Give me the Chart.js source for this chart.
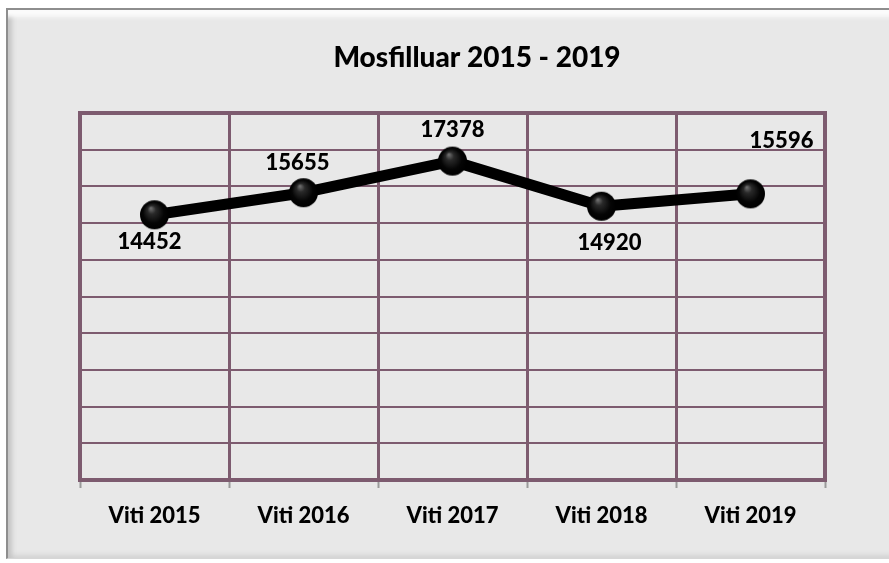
<!DOCTYPE html>
<html>
<head>
<meta charset="utf-8">
<script src="https://cdn.jsdelivr.net/npm/chart.js@4"></script>
<style>
  html, body { margin: 0; padding: 0; background: #ffffff; width: 889px; height: 563px; overflow: hidden; }
  #frame {
    position: absolute; left: 6px; top: 8px; width: 900px; height: 548px;
    border-top: 2px solid #8e8e8e; border-left: 2px solid #8e8e8e; border-bottom: 1px solid #d6d6d6;
    background: #e8e8e8;
    box-shadow: inset 0 15px 4px -8px #fbfbfb, inset 9px 0 5px -5px #c4c4c4, inset 0 -8px 5px -5px #d2d2d2;
  }
  #wrap { position: absolute; left: 0; top: 0; width: 889px; height: 563px; }
</style>
</head>
<body>
<div id="frame"></div>
<div id="wrap"><canvas id="c" width="889" height="563"></canvas></div>
<script>
const chartTitle = "Mosfilluar 2015 - 2019";
const categories = ["Viti 2015", "Viti 2016", "Viti 2017", "Viti 2018", "Viti 2019"];
const values = [14452, 15655, 17378, 14920, 15596];
const yMin = 0;
const yMax = 20000;
const yStep = 2000;

// label offsets relative to each point (styling, not data)
const labelOffsets = [[-5, 27], [-6, -30], [0, -31], [8, 37], [31, -53]];

const gridColor = "#7d5b6f";
const fontFamily = "Lato, 'Open Sans', sans-serif";
const textWeight = "900";

// sphere marker
function makeSphere(r) {
  const c = document.createElement("canvas");
  const s = r * 2 + 2;
  c.width = s; c.height = s;
  const g = c.getContext("2d");
  const cx = s / 2, cy = s / 2;
  const grad = g.createRadialGradient(cx - r * 0.25, cy - r * 0.45, r * 0.05, cx, cy, r);
  grad.addColorStop(0, "#6a6a6a");
  grad.addColorStop(0.25, "#2a2a2a");
  grad.addColorStop(0.7, "#050505");
  grad.addColorStop(1, "#000000");
  g.fillStyle = grad;
  g.beginPath(); g.arc(cx, cy, r, 0, Math.PI * 2); g.fill();
  return c;
}
const sphere = makeSphere(14.5);

const borderPlugin = {
  id: "plotBorder",
  beforeDatasetsDraw(chart) {
    const a = chart.chartArea, ctx = chart.ctx;
    ctx.save();
    ctx.strokeStyle = gridColor;
    ctx.lineWidth = 4;
    ctx.strokeRect(a.left, a.top, a.right - a.left, a.bottom - a.top);
    ctx.restore();
  }
};

const titlePlugin = {
  id: "customTitle",
  afterDraw(chart) {
    const ctx = chart.ctx;
    ctx.save();
    ctx.fillStyle = "#000000";
    ctx.font = textWeight + " 28px " + fontFamily;
    ctx.textAlign = "center";
    ctx.textBaseline = "middle";
    ctx.fillText(chartTitle, 477, 58);
    ctx.restore();
  }
};

const labelPlugin = {
  id: "pointLabels",
  afterDatasetsDraw(chart) {
    const ctx = chart.ctx;
    const meta = chart.getDatasetMeta(0);
    ctx.save();
    ctx.fillStyle = "#000000";
    ctx.font = textWeight + " 22px " + fontFamily;
    ctx.textAlign = "center";
    ctx.textBaseline = "middle";
    meta.data.forEach((pt, i) => {
      const o = labelOffsets[i];
      ctx.fillText(String(values[i]), pt.x + o[0], pt.y + o[1]);
    });
    ctx.restore();
  }
};

new Chart(document.getElementById("c"), {
  type: "line",
  data: {
    labels: categories,
    datasets: [{
      data: values,
      borderColor: "#000000",
      borderWidth: 11,
      borderJoinStyle: "round",
      borderCapStyle: "round",
      pointStyle: sphere,
      pointRadius: 15,
      pointHoverRadius: 15,
      tension: 0
    }]
  },
  options: {
    responsive: false,
    animation: false,
    events: [],
    layout: { padding: { left: 80, right: 64, top: 113, bottom: 0 } },
    plugins: { legend: { display: false }, tooltip: { enabled: false }, title: { display: false } },
    scales: {
      x: {
        offset: true,
        grid: { offset: true, color: gridColor, lineWidth: 3, drawTicks: true, tickLength: 8, tickColor: "#9a9a9a", tickWidth: 2 },
        border: { display: false },
        ticks: { color: "#000000", font: { family: fontFamily, size: 22, weight: textWeight }, padding: 15, maxRotation: 0 },
        afterFit(scale) { scale.height = 83; }
      },
      y: {
        min: yMin, max: yMax,
        grid: { color: gridColor, lineWidth: 2, drawTicks: false },
        border: { display: false },
        ticks: { display: false, stepSize: yStep },
        afterFit(scale) { scale.width = 0; }
      }
    }
  },
  plugins: [borderPlugin, labelPlugin, titlePlugin]
});
</script>
</body>
</html>
